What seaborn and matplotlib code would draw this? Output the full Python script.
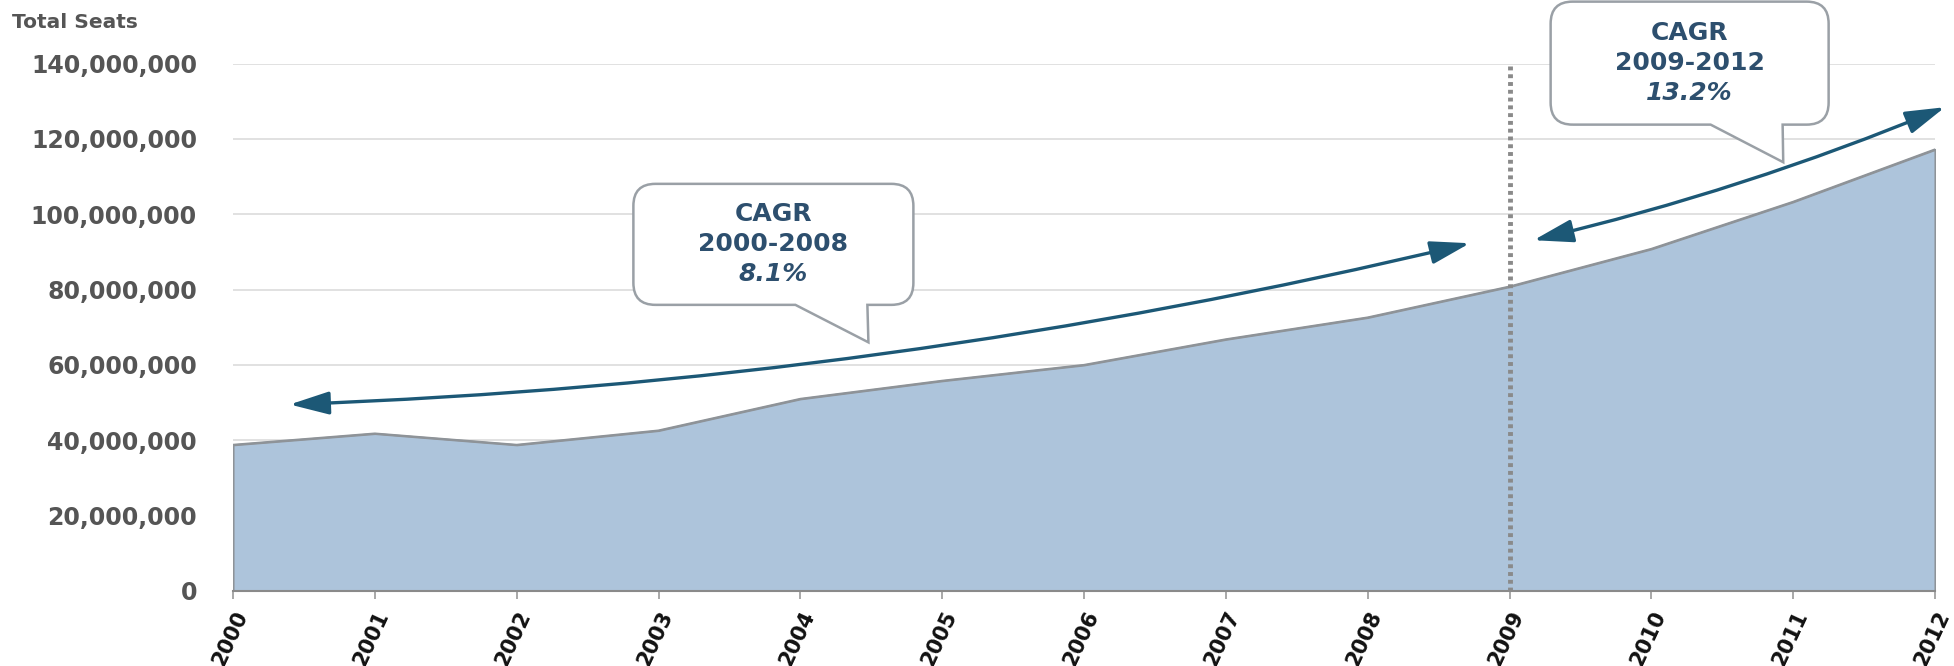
import numpy as np
import pandas as pd
import matplotlib
matplotlib.use("Agg")
import matplotlib.pyplot as plt
import seaborn as sns
from matplotlib.path import Path
from matplotlib.patches import PathPatch
from matplotlib.transforms import IdentityTransform
from matplotlib.ticker import FuncFormatter

# ---- data ----
years = [2000, 2001, 2002, 2003, 2004, 2005, 2006, 2007, 2008, 2009, 2010, 2011, 2012]
total_seats = [38.8e6, 41.8e6, 38.8e6, 42.6e6, 51.0e6, 55.8e6, 60.0e6, 66.8e6, 72.6e6,
               80.8e6, 90.8e6, 103.3e6, 117.2e6]
y_ticks = [0, 20e6, 40e6, 60e6, 80e6, 100e6, 120e6, 140e6]
split_year = 2009
cagr1_lines = ["CAGR", "2000-2008", "8.1%"]
cagr2_lines = ["CAGR", "2009-2012", "13.2%"]

df = pd.DataFrame({"year": years, "seats": total_seats})

sns.set_theme(style="white")
plt.rcParams['font.family'] = ['DejaVu Sans']

W, H = 1954, 666
fig = plt.figure(figsize=(W / 100, H / 100), dpi=100)
ax = fig.add_axes([233 / W, 1 - 591 / H, (1935 - 233) / W, (591 - 63.5) / H])

fill_c = "#adc4db"
edge_c = "#8e9398"
ax.fill_between(df["year"], 0, df["seats"], facecolor=fill_c, edgecolor=edge_c,
                linewidth=1.5, zorder=2)
sns.lineplot(data=df, x="year", y="seats", ax=ax, color=edge_c, linewidth=1.5, zorder=3)

ax.set_xlim(2000, 2012)
ax.set_ylim(0, 140e6)
ax.set_yticks(y_ticks)
ax.yaxis.set_major_formatter(FuncFormatter(lambda v, p: f"{int(v):,}"))
ax.set_xticks(years)
ax.set_xticklabels([str(y) for y in years], rotation=65, ha="right",
                   rotation_mode="anchor", fontsize=15, fontweight="bold", color="#111111")
for lab in ax.get_yticklabels():
    lab.set_fontsize(17)
    lab.set_fontweight("bold")
    lab.set_color("#555555")
ax.tick_params(axis="y", length=0, pad=26)
ax.tick_params(axis="x", length=6, width=1.2, color="#999999", direction="out",
               bottom=True, pad=6)
ax.set_xlabel("")
ax.set_ylabel("")
ax.grid(axis="y", color="#dcdcdc", linewidth=1.2, zorder=0)
ax.grid(axis="x", visible=False)
for s in ["top", "right", "left"]:
    ax.spines[s].set_visible(False)
ax.spines["bottom"].set_color("#8a8a8a")
ax.spines["bottom"].set_linewidth(1.5)
ax.spines["bottom"].set_zorder(4)
ax.set_axisbelow(True)

# dotted divider
ax.plot([split_year, split_year], [0, 140e6], color="#8a8a8a", linewidth=3.5,
        linestyle=(0, (0.8, 0.8)), zorder=4, clip_on=False)

# CAGR arrows
arrow_c = "#1c5876"
ap = dict(arrowstyle="<|-|>,head_length=1.1,head_width=0.32", color=arrow_c,
          lw=2.4, mutation_scale=22, shrinkA=0, shrinkB=0)
ax.annotate("", xy=(2008.72, 92.3e6), xytext=(2000.40, 49.5e6),
            arrowprops=dict(**ap, connectionstyle="arc3,rad=0.05"), zorder=6,
            annotation_clip=False)
ax.annotate("", xy=(2012.07, 128.4e6), xytext=(2009.17, 93.1e6),
            arrowprops=dict(**ap, connectionstyle="arc3,rad=0.04"), zorder=6,
            annotation_clip=False)

# speech-bubble callouts
fig.canvas.draw()


def callout(center, tip, w, h, base0, base1, lines, r=22):
    cx, cy = ax.transData.transform(center)
    tx, ty = ax.transData.transform(tip)
    x0, x1 = cx - w / 2, cx + w / 2
    y0, y1 = cy - h / 2, cy + h / 2
    verts = [(x0 + r, y0), (cx + base0, y0), (tx, ty), (cx + base1, y0),
             (x1 - r, y0), (x1, y0), (x1, y0 + r),
             (x1, y1 - r), (x1, y1), (x1 - r, y1),
             (x0 + r, y1), (x0, y1), (x0, y1 - r),
             (x0, y0 + r), (x0, y0), (x0 + r, y0)]
    codes = [Path.MOVETO, Path.LINETO, Path.LINETO, Path.LINETO,
             Path.LINETO, Path.CURVE3, Path.CURVE3,
             Path.LINETO, Path.CURVE3, Path.CURVE3,
             Path.LINETO, Path.CURVE3, Path.CURVE3,
             Path.LINETO, Path.CURVE3, Path.CURVE3]
    patch = PathPatch(Path(verts, codes), facecolor="white", edgecolor="#9aa0a6",
                      linewidth=1.8, transform=IdentityTransform(), zorder=7,
                      clip_on=False)
    ax.add_artist(patch)
    offs = [30, 0, -30]
    styles = ["normal", "normal", "italic"]
    for txt, off, st in zip(lines, offs, styles):
        ax.annotate(txt, xy=center, xytext=(0, off), textcoords="offset pixels",
                    ha="center", va="center", fontsize=18, fontweight="bold",
                    fontstyle=st, color="#2d4f6e", zorder=8, annotation_clip=False)


callout((2003.81, 92.0e6), (2004.48, 66.0e6), 280, 121, 22, 94, cagr1_lines)
callout((2010.27, 140.1e6), (2010.93, 113.8e6), 278, 123, 21, 93, cagr2_lines)

fig.text(12 / W, 1 - 22 / H, "Total Seats", ha="left", va="center", fontsize=14.5,
         fontweight="bold", color="#555555")

fig.savefig("out.png", dpi=100)
